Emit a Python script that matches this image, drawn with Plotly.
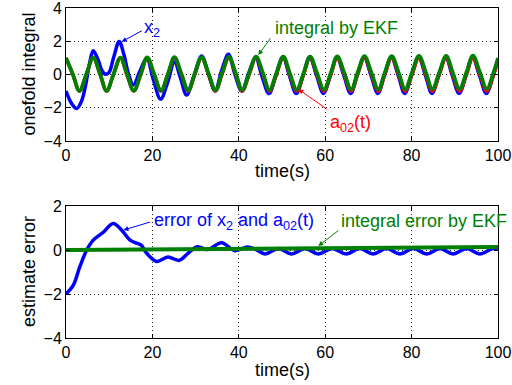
import plotly.graph_objects as go
from plotly.subplots import make_subplots

# ---------------- data ----------------
# reference a02(t) and EKF integral: key points (peaks, troughs, crossings)
t_ref = [0, 1.6, 3.1, 4.7, 6.3, 7.9, 9.4, 11.0, 12.6, 14.1, 15.7, 17.3, 18.8, 20.4,
         22.0, 23.6, 25.1, 26.7, 28.3, 29.8, 31.4, 33.0, 34.6, 36.1, 37.7, 39.3,
         40.8, 42.4, 44.0, 45.6, 47.1, 48.7, 50.3, 51.8, 53.4, 55.0, 56.5, 58.1,
         59.7, 61.3, 62.8, 64.4, 66.0, 67.5, 69.1, 70.7, 72.3, 73.8, 75.4, 77.0,
         78.5, 80.1, 81.7, 83.3, 84.8, 86.4, 88.0, 89.5, 91.1, 92.7, 94.2, 95.8,
         97.4, 99.0, 100.0]
a02 = [1, 0, -1, 0, 1, 0, -1, 0, 1, 0, -1, 0, 1, 0,
       -1, 0, 1, 0, -1, 0, 1, 0, -1, 0, 1, 0,
       -1, 0, 1, 0, -1, 0, 1, 0, -1, 0, 1, 0,
       -1, 0, 1, 0, -1, 0, 1, 0, -1, 0, 1, 0,
       -1, 0, 1, 0, -1, 0, 1, 0, -1, 0, 1, 0,
       -1, 0, 0.86]
ekf = [1.0, 0.0, -0.99, 0.01, 1.01, 0.02, -0.98, 0.02, 1.02, 0.03, -0.97, 0.03, 1.03, 0.03,
       -0.97, 0.04, 1.04, 0.04, -0.96, 0.05, 1.05, 0.05, -0.95, 0.06, 1.06, 0.06,
       -0.94, 0.07, 1.07, 0.07, -0.93, 0.08, 1.08, 0.08, -0.92, 0.08, 1.08, 0.09,
       -0.91, 0.09, 1.09, 0.1, -0.9, 0.1, 1.1, 0.1, -0.9, 0.11, 1.11, 0.11,
       -0.89, 0.12, 1.12, 0.12, -0.88, 0.12, 1.12, 0.13, -0.87, 0.13, 1.13, 0.13,
       -0.87, 0.14, 0.99]

# state x2
t_x2 = [0, 1.2, 2.5, 3.6, 4.5, 5.4, 6.3, 7.4, 8.2, 9.0, 9.9, 11.0, 12.3, 13.4, 14.5,
        15.6, 17.1, 18.7, 20.2, 21.9, 23.5, 25.1, 26.5, 27.9, 29.6, 31.4, 33.0,
        34.5, 36.1, 37.6, 39.1, 40.7, 42.3, 43.9, 45.4, 47.0, 48.6, 50.2, 51.7, 53.3,
        54.9, 56.4, 58.0, 59.6, 61.2, 62.7, 64.3, 65.9, 67.4, 69.0, 70.6, 72.2, 73.7,
        75.3, 76.9, 78.4, 80.0, 81.6, 83.2, 84.7, 86.3, 87.9, 89.4, 91.0, 92.6, 94.1,
        95.7, 97.3, 98.9, 100.0]
x2 = [-1.0, -1.7, -2.05, -1.6, -0.7, 0.6, 1.43, 0.9, 0.3, 0.03, 0.1, 1.0, 1.98, 1.2, 0.0,
      -0.63, 0.2, 0.98, -0.3, -1.48, -0.5, 0.75, -0.2, -1.23, -0.1, 1.11, 0.0,
      -0.98, 0.3, 1.22, 0.0, -1.0, 0.1, 1.0, -0.15, -1.15, -0.05, 1.05, -0.05, -1.15,
      -0.05, 1.04, -0.05, -1.14, -0.05, 1.04, -0.05, -1.14, -0.05, 1.04, -0.05, -1.14, -0.05,
      1.04, -0.05, -1.14, -0.05, 1.04, -0.05, -1.14, -0.05, 1.04, -0.05, -1.14, -0.05, 1.04,
      -0.05, -1.14, -0.05, 0.85]

# error of x2 and a02(t)
t_err = [0, 1.7, 3.2, 4.8, 6.3, 8.6, 10.9, 12.9, 14.8, 16.5, 17.4, 18.7, 21.0, 23.6,
         26.2, 28.3, 30.4, 32.8, 36.0, 39.1, 42.0, 44.0, 46.1, 49.2, 52.2, 55.3, 58.4,
         61.6, 64.9, 68.0, 71.1, 74.2, 77.3, 80.4, 83.5, 86.6, 89.6, 92.7, 95.8, 98.9, 100.0]
err = [-2.0, -1.6, -0.76, 0.0, 0.45, 0.8, 1.2, 0.9, 0.45, 0.3, 0.22, -0.15, -0.52, -0.32,
       -0.47, -0.14, 0.15, 0.02, 0.33, -0.03, 0.14, 0.02, -0.18, 0.07, -0.18, 0.07, -0.18,
       0.07, -0.18, 0.07, -0.18, 0.07, -0.18, 0.07, -0.18, 0.07, -0.18, 0.07, -0.18, 0.07, 0.04]

# integral error by EKF
t_ekf_err = [0, 10, 20, 30, 40, 50, 60, 70, 80, 90, 100]
ekf_err = [0.0, 0.01, 0.03, 0.05, 0.07, 0.08, 0.1, 0.11, 0.12, 0.13, 0.14]

x_ticks = [0, 20, 40, 60, 80, 100]
y_ticks_top = [-4, -2, 0, 2, 4]
y_ticks_bot = [-4, -2, 0, 2]

BLUE = "#0000ff"
RED = "#ff0000"
GREEN = "#008000"
FONT = "Liberation Sans, Arial, sans-serif"

fig = make_subplots(rows=2, cols=1, vertical_spacing=0.197)

fig.add_trace(go.Scatter(x=t_x2, y=x2, mode="lines", line=dict(color=BLUE, width=3.5, shape="spline", smoothing=1.0)), row=1, col=1)
fig.add_trace(go.Scatter(x=t_ref, y=a02, mode="lines", line=dict(color=RED, width=3.5, shape="spline", smoothing=1.0)), row=1, col=1)
fig.add_trace(go.Scatter(x=t_ref, y=ekf, mode="lines", line=dict(color=GREEN, width=3.8, shape="spline", smoothing=1.0)), row=1, col=1)

fig.add_trace(go.Scatter(x=t_err, y=err, mode="lines", line=dict(color=BLUE, width=3.5, shape="spline", smoothing=1.0)), row=2, col=1)
fig.add_trace(go.Scatter(x=t_ekf_err, y=ekf_err, mode="lines", line=dict(color=GREEN, width=4)), row=2, col=1)

axis_common = dict(
    showline=True, linecolor="black", linewidth=1, mirror="ticks",
    ticks="inside", ticklen=4, tickcolor="black", automargin=False,
    ticklabeloverflow="allow",
    showgrid=True, gridcolor="#222222", griddash="1px,3px", gridwidth=1,
    zeroline=False, tickfont=dict(family=FONT, size=16, color="black"),
)
for r in (1, 2):
    fig.update_xaxes(range=[0, 100], tickvals=x_ticks, row=r, col=1, **axis_common)
fig.update_yaxes(range=[-4, 4], tickvals=y_ticks_top, row=1, col=1, **axis_common)
fig.update_yaxes(range=[-4, 2], tickvals=y_ticks_bot, row=2, col=1, **axis_common)
fig.update_xaxes(domain=[0, 1])
fig.update_yaxes(domain=[0.597, 1.0], row=1, col=1)
fig.update_yaxes(domain=[0.0, 0.4], row=2, col=1)

anns = []
# axis labels
lab_font = dict(family=FONT, size=18, color="black")
anns.append(dict(text="onefold integral", xref="paper", yref="y domain", x=-0.0856, y=0.5,
                 xanchor="center", yanchor="middle", textangle=-90, showarrow=False, font=lab_font))
anns.append(dict(text="estimate error", xref="paper", yref="y2 domain", x=-0.0856, y=0.5,
                 xanchor="center", yanchor="middle", textangle=-90, showarrow=False, font=lab_font))
anns.append(dict(text="time(s)", xref="x domain", yref="y domain", x=0.5, y=-0.226,
                 xanchor="center", yanchor="middle", showarrow=False, font=lab_font))
anns.append(dict(text="time(s)", xref="x2 domain", yref="y2 domain", x=0.5, y=-0.242,
                 xanchor="center", yanchor="middle", showarrow=False, font=lab_font))

# arrows (text-less) : head (x,y), tail (ax,ay)
def arrow(xr, yr, hx, hy, tx, ty, col):
    return dict(text="", xref=xr, yref=yr, x=hx, y=hy, axref=xr, ayref=yr, ax=tx, ay=ty,
                showarrow=True, arrowhead=2, arrowsize=1, arrowwidth=1, arrowcolor=col)

anns.append(arrow("x", "y", 12.9, 1.97, 17.9, 2.68, BLUE))
anns.append(arrow("x", "y", 44.5, 1.17, 47.6, 2.27, GREEN))
anns.append(arrow("x", "y", 53.8, -0.89, 60.7, -2.14, RED))
anns.append(arrow("x2", "y2", 13.3, 0.91, 19.8, 1.29, BLUE))
anns.append(arrow("x2", "y2", 58.4, 0.18, 63.4, 0.94, GREEN))

# texts
def label(xr, yr, x, y, txt, col):
    return dict(text=txt, xref=xr, yref=yr, x=x, y=y, xanchor="left", yanchor="middle",
                showarrow=False, font=dict(family=FONT, size=18, color=col))

anns.append(label("x", "y", 17.6, 2.75, "x<sub>2</sub>", BLUE))
anns.append(label("x", "y", 47.9, 2.8, "integral by EKF", GREEN))
anns.append(label("x", "y", 60.6, -2.95, "a<sub>02</sub>(t)", RED))
anns.append(label("x2", "y2", 19.8, 1.3, "error of x<sub>2</sub> and a<sub>02</sub>(t)", BLUE))
anns.append(label("x2", "y2", 63.3, 1.3, "integral error by EKF", GREEN))

fig.update_layout(
    width=512, height=385,
    margin=dict(l=66, r=14, t=8, b=47),
    paper_bgcolor="white", plot_bgcolor="white",
    showlegend=False,
    annotations=anns,
    font=dict(family=FONT, size=16, color="black"),
)

fig.write_html("out.html")
